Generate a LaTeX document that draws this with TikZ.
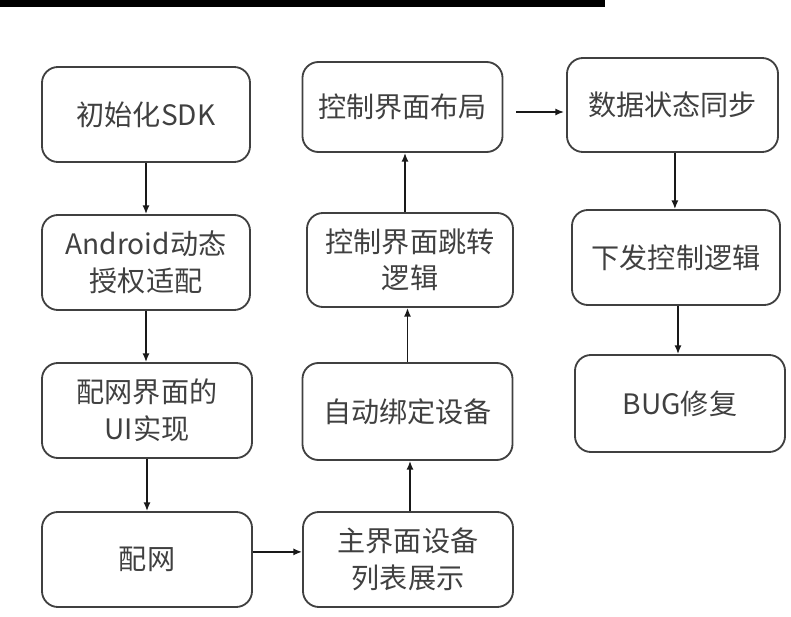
\documentclass[tikz,border=0pt]{standalone}
\usepackage{fontspec}
\setmainfont{Noto Sans CJK SC}
\usetikzlibrary{arrows.meta}

\tikzset{
  stepbox/.style={draw=black!75, line width=1.3pt, rounded corners=0.4cm,
    align=center, text=black!75, inner sep=0pt,
    font=\fontsize{20}{26}\selectfont,
    minimum width=5.25cm, minimum height=2.375cm},
  flowarrow/.style={-{Latex[length=2.2mm,width=1.8mm]}, line width=1.1pt, black!90},
}

\begin{document}
\begin{tikzpicture}[x=0.025cm,y=-0.025cm]
\useasboundingbox (0,0) rectangle (791,617);

% strip along the top edge
\fill[black] (0,0) rectangle (605,7);

% left column
\node[stepbox, minimum width=5.2cm] (initsdk) at (146,114.5) {初始化SDK};
\node[stepbox, minimum width=5.2cm] (authfit) at (146,262.5) {Android动态\\授权适配};
\node[stepbox] (netui) at (147,410.5) {配网界面的\\UI实现};
\node[stepbox] (netcfg) at (147,559.5) {配网};

% middle column
\node[stepbox] (devlist) at (408,559.5) {主界面设备\\列表展示};
\node[stepbox, minimum height=2.425cm] (autobind) at (407.5,411.5) {自动绑定设备};
\node[stepbox, minimum width=5.15cm, minimum height=2.35cm] (jumplogic) at (410,260) {控制界面跳转\\逻辑};
\node[stepbox, minimum width=5cm, minimum height=2.25cm] (layout) at (402.5,107) {控制界面布局};

% right column
\node[stepbox, minimum width=5.275cm, minimum height=2.35cm] (syncstate) at (672.5,105) {数据状态同步};
\node[stepbox, minimum width=5.2cm] (sendctrl) at (676,257.5) {下发控制逻辑};
\node[stepbox, minimum height=2.425cm] (bugfix) at (680,403.5) {BUG修复};

% arrows
\draw[flowarrow] (initsdk) -- (authfit);
\draw[flowarrow] (authfit.south) -- (authfit.south |- netui.north);
\draw[flowarrow] (netui) -- (netcfg);
\draw[flowarrow] ([yshift=0.19cm]netcfg.east) -- ([yshift=0.19cm]netcfg.east -| devlist.west);
\draw[flowarrow] ([xshift=0.05cm]devlist.north) -- ([xshift=0.05cm]devlist.north |- autobind.south);
\draw[flowarrow] (autobind.north) -- (autobind.north |- jumplogic.south);
\draw[flowarrow] ([xshift=-0.125cm]jumplogic.north) -- ([xshift=-0.125cm]jumplogic.north |- layout.south);
\draw[flowarrow, shorten <=0.325cm, shorten >=0.05cm] ([yshift=-0.125cm]layout.east) -- ([yshift=-0.125cm]layout.east -| syncstate.west);
\draw[flowarrow] ([xshift=0.06cm]syncstate.south) -- ([xshift=0.06cm]syncstate.south |- sendctrl.north);
\draw[flowarrow] ([xshift=0.05cm]sendctrl.south) -- ([xshift=0.05cm]sendctrl.south |- bugfix.north);
\end{tikzpicture}
\end{document}
